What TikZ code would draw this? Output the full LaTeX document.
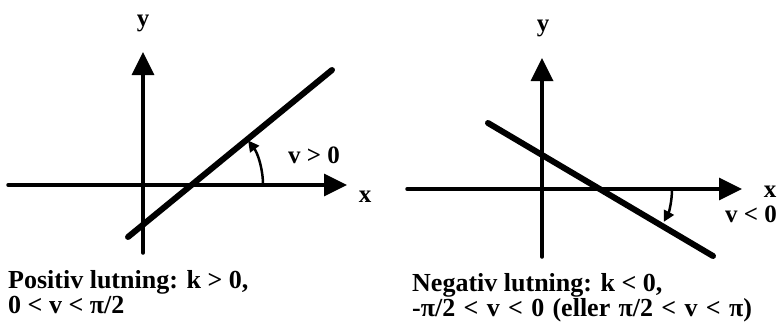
\documentclass[tikz,border=0pt]{standalone}
\usepackage{fontspec}
\setmainfont{Liberation Serif}
\usetikzlibrary{arrows.meta, calc}
\tikzset{
  axis/.style={line width=3.5pt, line cap=round, -{Triangle[length=23pt, width=22pt]}},
  graph/.style={line width=6pt, line cap=round},
  angle arrow/.style={line width=2.5pt, -{Triangle[length=11pt, width=11pt]}},
  lbl/.style={font=\bfseries\fontsize{25}{29}\selectfont, inner sep=0pt},
  caption/.style={inner sep=0pt, align=left, anchor=north west,
    font=\bfseries\fontsize{26}{25.5}\selectfont},
}

\begin{document}
\begin{tikzpicture}[x=1pt, y=-1pt]
  \useasboundingbox (0,0) rectangle (783,329);

  % positiv lutning
  \coordinate (xA0) at (8,185);
  \coordinate (xA1) at (347,185);
  \coordinate (yA0) at (143,253);
  \coordinate (yA1) at (143,52);
  \coordinate (lA0) at (128,237);
  \coordinate (lA1) at (332,70);
  \coordinate (sA)  at (189,185);

  \draw[axis]  (xA0) -- (xA1);
  \draw[axis]  (yA0) -- (yA1);
  \draw[graph] (lA0) -- (lA1);
  \draw[angle arrow] ($(sA)+(74,0)$) arc[start angle=0, end angle=-37, radius=74];

  \node[lbl, anchor=base]      (yA) at (143,27)  {y};
  \node[lbl, anchor=base]      (xA) at (365,202) {x};
  \node[lbl, anchor=base west] (vA) at (288,163) {v > 0};
  \node[caption]               (kA) at (8,270)   {Positiv lutning: k > 0,\\0 < v < π/2};

  % negativ lutning
  \coordinate (xB0) at (407,189);
  \coordinate (xB1) at (742,189);
  \coordinate (yB0) at (542,257);
  \coordinate (yB1) at (542,58);
  \coordinate (lB0) at (488,123);
  \coordinate (lB1) at (713,256);
  \coordinate (sB)  at (602,189);

  \draw[axis]  (xB0) -- (xB1);
  \draw[axis]  (yB0) -- (yB1);
  \draw[graph] (lB0) -- (lB1);
  \draw[angle arrow] ($(sB)+(70,0)$) arc[start angle=0, end angle=28, radius=70];

  \node[lbl, anchor=base]      (yB) at (543,32)  {y};
  \node[lbl, anchor=base]      (xB) at (770,197) {x};
  \node[lbl, anchor=base west] (vB) at (725,222) {v < 0};
  \node[caption]               (kB) at (412,273) {Negativ lutning: k < 0,\\{\spaceskip=0.32em -π/2 < v < 0 (eller π/2 < v < π)}};
\end{tikzpicture}
\end{document}
